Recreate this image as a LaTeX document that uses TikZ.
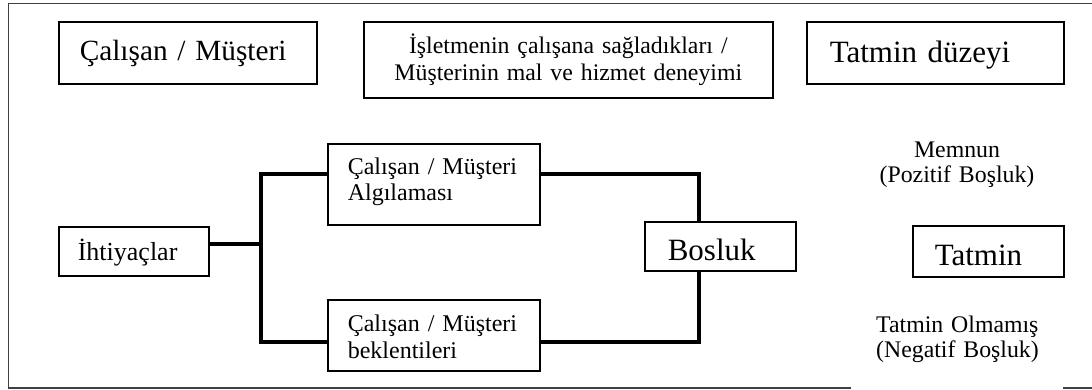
\documentclass[tikz,border=0pt]{standalone}
\usepackage{fontspec}
\setmainfont{Liberation Serif}
\usetikzlibrary{calc}
\begin{document}
\begin{tikzpicture}[x=1pt,y=-1pt,
  box/.style={draw, line width=1.6pt, inner ysep=0pt, anchor=north west, align=left},
  link/.style={line width=4.5pt, line join=miter},
  frame/.style={draw=black!75, line width=1.5pt},
  note/.style={inner sep=0pt, text width=200pt, font=\fontsize{23.8}{25}\selectfont}]
\useasboundingbox (0,0) rectangle (1092,389);

% outer frame (open on the right, gap in the bottom edge)
\draw[frame] (1092,3.5) -- (8.5,3.5) -- (8.5,388) -- (851,388);
\draw[frame] (1063,388) -- (1092,388);

% header row
\node[box, inner xsep=21pt, text width=216pt, text height=39pt, text depth=23pt,
      font=\fontsize{29.3}{33}\selectfont] (who) at (58,21) {Çalışan / Müşteri};
\node[box, align=center, inner xsep=10pt, text width=389pt, text height=32pt, text depth=44pt,
      font=\fontsize{23.8}{27}\selectfont] (offer) at (363,21)
      {İşletmenin çalışana sağladıkları /\\Müşterinin mal ve hizmet deneyimi};
\node[box, inner xsep=23pt, text width=211pt, text height=41pt, text depth=21pt,
      font=\fontsize{31}{35}\selectfont] (level) at (806,21) {Tatmin düzeyi};

% flow
\node[box, inner xsep=19pt, text width=112pt, text height=34pt, text depth=15pt,
      font=\fontsize{26}{30}\selectfont] (ihtiyac) at (58,226) {İhtiyaçlar};
\node[box, inner xsep=20pt, text width=172pt, text height=31pt, text depth=50pt,
      font=\fontsize{24}{26}\selectfont] (alg) at (327,143) {Çalışan / Müşteri\\Algılaması};
\node[box, inner xsep=20pt, text width=172pt, text height=32pt, text depth=39pt,
      font=\fontsize{24}{27}\selectfont] (bek) at (327,299) {Çalışan / Müşteri\\beklentileri};
\node[box, inner xsep=23pt, text width=105pt, text height=39pt, text depth=10pt,
      font=\fontsize{31}{35}\selectfont] (bosluk) at (644,221) {Bosluk};
\node[box, inner xsep=22pt, text width=107pt, text height=40pt, text depth=11pt,
      font=\fontsize{31}{35}\selectfont] (tatmin) at (912,225) {Tatmin};

% outcome labels
\node[note, align=center, anchor=base] (memnun) at (957,157) {Memnun\\(Pozitif Boşluk)};
\node[note, align=left, anchor=base west] (olmamis) at (876,332) {Tatmin Olmamış\\(Negatif Boşluk)};

% connectors
\coordinate (fork) at (261,244);
\coordinate (upper) at (261,174);
\coordinate (lower) at (261,342);
\coordinate (gapx) at (699,174);
\draw[link] (fork -| ihtiyac.east) -- (fork);
\draw[link] (upper -| alg.west) -- (upper) -- (lower) -- (lower -| bek.west);
\draw[link] (upper -| alg.east) -| (bosluk.north -| gapx);
\draw[link] (bosluk.south -| gapx) |- (lower -| bek.east);
\end{tikzpicture}
\end{document}
